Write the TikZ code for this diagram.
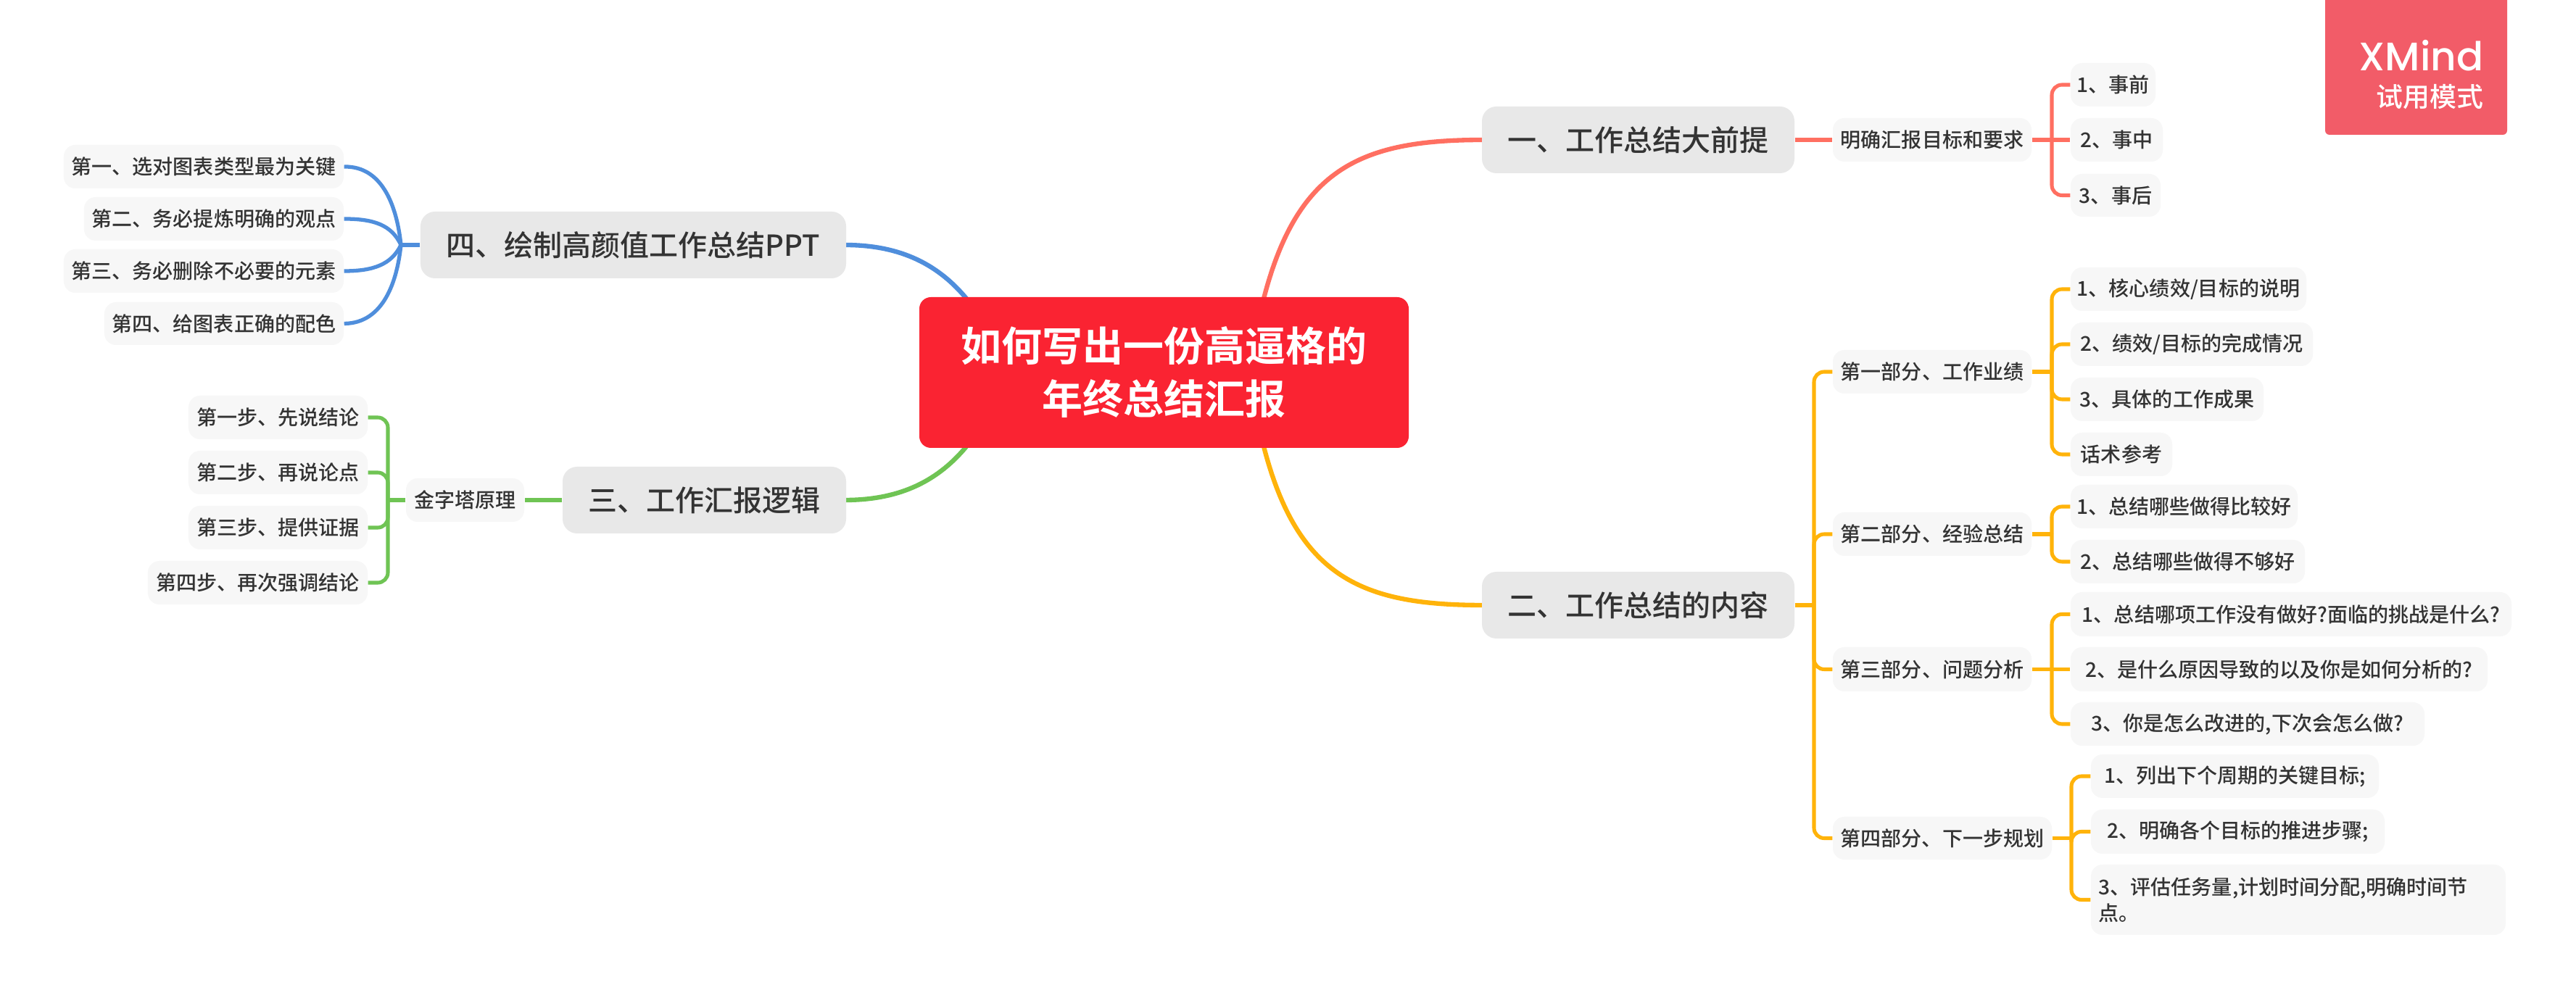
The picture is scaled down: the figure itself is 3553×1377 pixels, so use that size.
\documentclass[tikz,border=0pt]{standalone}
\usepackage{fontspec}
\setmainfont{Noto Sans CJK SC}
\newfontfamily\medf{Noto Sans CJK SC Medium}
\newfontfamily\boldf{Noto Sans CJK SC Bold}
\newfontfamily\logof{Poppins Medium}
\definecolor{redc}{HTML}{FA2332}
\definecolor{coral}{HTML}{FF6F61}
\definecolor{yel}{HTML}{FFB30A}
\definecolor{grn}{HTML}{6FC454}
\definecolor{blu}{HTML}{4F8EDC}
\definecolor{logoc}{HTML}{F25C68}
\definecolor{grayb}{HTML}{E8E8E8}
\definecolor{grayl}{HTML}{F7F7F7}
\definecolor{ink}{HTML}{333333}
\tikzset{
  rootbox/.style={fill=redc,text=white,rounded corners=0.16cm,align=center,inner sep=0pt,font=\boldf\fontsize{15.93}{20.77}\selectfont},
  branchbox/.style={fill=grayb,text=ink,rounded corners=0.2cm,align=center,inner sep=0pt,font=\medf\fontsize{11.38}{14}\selectfont},
  leafbox/.style={fill=grayl,text=ink,rounded corners=0.16cm,align=center,inner sep=0pt,font=\medf\fontsize{7.97}{10.24}\selectfont},
  logobox/.style={fill=logoc,rounded corners=0.06cm,inner sep=0pt},
  mainlink/.style={line width=1.8pt},
  sublink/.style={line width=1.45pt,rounded corners=0.14cm},
  stublink/.style={line width=1.7pt}
}
\newcommand{\nd}[7][]{%
  \pgfmathsetmacro{\cxx}{(#4+#6)/2}\pgfmathsetmacro{\cyy}{(#5+#7)/2}%
  \pgfmathsetmacro{\www}{(#6-#4)*0.01}\pgfmathsetmacro{\hhh}{(#7-#5)*0.01}%
  \node[#2,minimum width=\www cm,minimum height=\hhh cm,#1] (#3) at (\cxx,\cyy)}
\begin{document}
\begin{tikzpicture}[x=0.01cm,y=-0.01cm]
\useasboundingbox (0,0) rectangle (3553,1377);
\fill[white] (0,0) rectangle (3553,1377);
% connectors to the root are drawn first
\coordinate (r1) at (1743,412);
\coordinate (r2) at (1743,616);
\coordinate (r3) at (1333,616);
\coordinate (r4) at (1333,412);
\coordinate (b1w) at (2046,193);
\coordinate (b2w) at (2046,835);
\coordinate (b3e) at (1165,690);
\coordinate (b4e) at (1165,338);
\draw[coral,mainlink] (r1) .. controls (1790,230) and (1880,193) .. (b1w);
\draw[yel,mainlink] (r2) .. controls (1790,798) and (1880,835) .. (b2w);
\draw[grn,mainlink] (r3) .. controls (1290,668) and (1235,690) .. (b3e);
\draw[blu,mainlink] (r4) .. controls (1290,360) and (1235,338) .. (b4e);
% root
\nd{rootbox}{root}{1268}{410}{1943}{618} {如何写出一份高逼格的\\年终总结汇报};
% branches
\nd{branchbox}{b1}{2044}{147}{2475}{239} {一、工作总结大前提};
\nd{branchbox}{b2}{2044}{789}{2475}{881} {二、工作总结的内容};
\nd{branchbox}{b3}{776}{644}{1167}{736} {三、工作汇报逻辑};
\nd{branchbox}{b4}{580}{292}{1167}{384} {四、绘制高颜值工作总结PPT};
% branch 1
\nd{leafbox}{a0}{2528}{163}{2802}{223} {明确汇报目标和要求};
\nd{leafbox}{a1}{2856}{87}{2973}{147} {1、事前};
\nd{leafbox}{a2}{2856}{163}{2983}{223} {2、事中};
\nd{leafbox}{a3}{2856}{240}{2980}{299} {3、事后};
% branch 2
\nd{leafbox}{p1}{2528}{483}{2802}{543} {第一部分、工作业绩};
\nd{leafbox}{p2}{2528}{707}{2802}{767} {第二部分、经验总结};
\nd{leafbox}{p3}{2528}{893}{2802}{954} {第三部分、问题分析};
\nd{leafbox}{p4}{2528}{1127}{2830}{1186} {第四部分、下一步规划};
\nd{leafbox}{p11}{2856}{369}{3181}{429} {1、核心绩效/目标的说明};
\nd{leafbox}{p12}{2856}{445}{3190}{505} {2、绩效/目标的完成情况};
\nd{leafbox}{p13}{2856}{521}{3122}{581} {3、具体的工作成果};
\nd{leafbox}{p14}{2856}{597}{2996}{657} {话术参考};
\nd{leafbox}{p21}{2856}{669}{3169}{729} {1、总结哪些做得比较好};
\nd{leafbox}{p22}{2856}{745}{3179}{805} {2、总结哪些做得不够好};
\nd{leafbox}{p31}{2856}{817}{3464}{878} {1、总结哪项工作没有做好?面临的挑战是什么?};
\nd{leafbox}{p32}{2856}{893}{3431}{954} {2、是什么原因导致的以及你是如何分析的?};
\nd{leafbox}{p33}{2856}{969}{3344}{1029} {3、你是怎么改进的,下次会怎么做?};
\nd{leafbox}{p41}{2884}{1041}{3281}{1101} {1、列出下个周期的关键目标;};
\nd{leafbox}{p42}{2884}{1117}{3289}{1178} {2、明确各个目标的推进步骤;};
\nd[text width=5.50cm,align=left]{leafbox}{p43}{2884}{1193}{3456}{1290} {3、评估任务量,计划时间分配,明确时间节\\点。};
% branch 3
\nd{leafbox}{g0}{560}{660}{723}{720} {金字塔原理};
\nd{leafbox}{g1}{260}{546}{507}{606} {第一步、先说结论};
\nd{leafbox}{g2}{260}{622}{507}{682} {第二步、再说论点};
\nd{leafbox}{g3}{260}{698}{507}{758} {第三步、提供证据};
\nd{leafbox}{g4}{204}{774}{507}{834} {第四步、再次强调结论};
% branch 4
\nd{leafbox}{u1}{88}{200}{474}{260} {第一、选对图表类型最为关键};
\nd{leafbox}{u2}{116}{272}{474}{332} {第二、务必提炼明确的观点};
\nd{leafbox}{u3}{88}{344}{474}{404} {第三、务必删除不必要的元素};
\nd{leafbox}{u4}{144}{417}{474}{476} {第四、给图表正确的配色};
% logo
\nd{logobox}{logo}{3207}{-8}{3458}{186} {};
\node[text=white,anchor=east,inner sep=0pt,font=\logof\fontsize{15.6}{18}\selectfont] (logo1) at (3426,77) {XMind};
\node[text=white,anchor=east,inner sep=0pt,font=\medf\fontsize{10.5}{12}\selectfont] (logo2) at (3426,134) {试用模式};
% red branch
\draw[coral,stublink] (b1.east) -- (a0.west);
\coordinate (sa) at (2830,193);
\draw[coral,stublink] (a0.east) -- (a2.west);
\foreach \c in {a1,a3} \draw[coral,sublink] (sa) |- (\c.west);
% yellow branch
\coordinate (sy) at (2502,835);
\draw[yel,stublink] (b2.east) -- (sy);
\foreach \c in {p1,p2,p3,p4} \draw[yel,sublink] (sy) |- (\c.west);
\coordinate (s1) at (2830,513);
\draw[yel,stublink] (p1.east) -- (s1);
\foreach \c in {p11,p12,p13,p14} \draw[yel,sublink] (s1) |- (\c.west);
\coordinate (s2) at (2830,737);
\draw[yel,stublink] (p2.east) -- (s2);
\foreach \c in {p21,p22} \draw[yel,sublink] (s2) |- (\c.west);
\coordinate (s3) at (2830,923.5);
\draw[yel,stublink] (p3.east) -- (p32.west);
\foreach \c in {p31,p33} \draw[yel,sublink] (s3) |- (\c.west);
\coordinate (s4) at (2857,1156.5);
\draw[yel,stublink] (p4.east) -- (s4);
\foreach \c in {p41,p42,p43} \draw[yel,sublink] (s4) |- (\c.west);
% green branch
\draw[grn,stublink] (b3.west) -- (g0.east);
\coordinate (sg) at (535,690);
\draw[grn,stublink] (g0.west) -- (sg);
\foreach \c in {g1,g2,g3,g4} \draw[grn,sublink] (sg) |- (\c.east);
% blue branch
\coordinate (sb) at (553,338);
\draw[blu,stublink] (b4.west) -- (sb);
\draw[blu,line width=1.5pt] (sb) .. controls (548,290) and (530,229) .. (u1.east);
\draw[blu,line width=1.5pt] (sb) .. controls (540,310) and (515,302) .. (u2.east);
\draw[blu,line width=1.5pt] (sb) .. controls (540,365) and (515,374) .. (u3.east);
\draw[blu,line width=1.5pt] (sb) .. controls (548,386) and (530,446) .. (u4.east);
\end{tikzpicture}
\end{document}
